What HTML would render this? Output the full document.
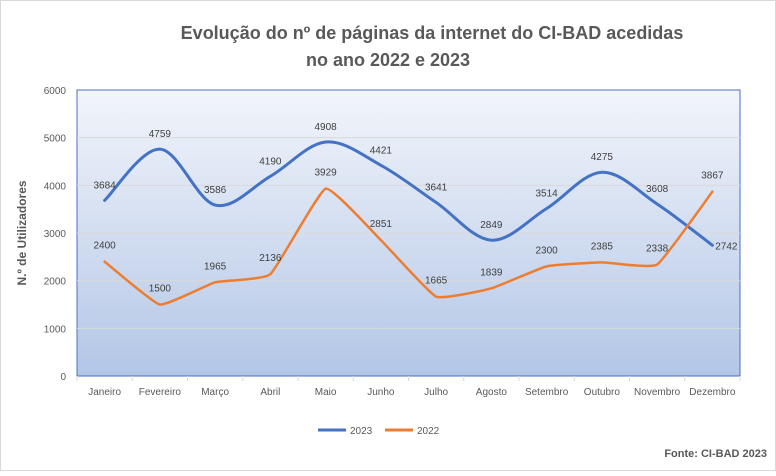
<!DOCTYPE html>
<html><head><meta charset="utf-8"><style>
body{margin:0;background:#fff;}
#c{position:relative;width:776px;height:471px;font-family:"Liberation Sans",sans-serif;}
</style></head><body><div id="c">
<svg id="s" width="776" height="471" xmlns="http://www.w3.org/2000/svg" font-family="Liberation Sans, sans-serif">
<defs><linearGradient id="g" x1="0" y1="0" x2="0" y2="1"><stop offset="0" stop-color="#f2f5fb"/><stop offset="1" stop-color="#b3c6e6"/></linearGradient></defs>
<rect x="0.5" y="0.5" width="775" height="470" fill="#fff" stroke="#d9d9d9"/>
<text x="432" y="39" text-anchor="middle" font-size="18" font-weight="bold" fill="#595959">Evolução do nº de páginas da internet do CI-BAD acedidas</text>
<text x="388" y="66" text-anchor="middle" font-size="18" font-weight="bold" fill="#595959">no ano 2022 e 2023</text>
<rect x="77" y="90" width="663" height="286" fill="url(#g)" stroke="#4472c4" stroke-width="1"/>
<text transform="translate(26,233) rotate(-90)" text-anchor="middle" font-size="12" font-weight="bold" fill="#595959">N.º de Utilizadores</text>
<line x1="318" y1="430" x2="346" y2="430" stroke="#4472c4" stroke-width="3"/>
<text x="350" y="434" font-size="10" fill="#595959">2023</text>
<line x1="385" y1="430" x2="413" y2="430" stroke="#ed7d31" stroke-width="3"/>
<text x="417" y="434" font-size="10" fill="#595959">2022</text>
<text x="767" y="457" text-anchor="end" font-size="11" font-weight="bold" fill="#595959">Fonte: CI-BAD  2023</text>
</svg>
<script>
var ns="http://www.w3.org/2000/svg",s=document.getElementById('s');
function el(t,a,txt){var e=document.createElementNS(ns,t);for(var k in a)e.setAttribute(k,a[k]);if(txt!==undefined)e.textContent=txt;s.appendChild(e);return e;}
function Y(v){return 376-v*286/6000;}
for(var v=0;v<=6000;v+=1000){var y=Y(v);if(v>0&&v<6000)el('line',{x1:77,x2:740,y1:y,y2:y,stroke:'#d9d9d9','stroke-width':1});
el('text',{x:66,y:y+4,'text-anchor':'end','font-size':10,fill:'#595959'},v);}
var m=["Janeiro","Fevereiro","Março","Abril","Maio","Junho","Julho","Agosto","Setembro","Outubro","Novembro","Dezembro"];
var w=663/12;function X(i){return 77+w/2+i*w;}
for(var i=0;i<12;i++){el('text',{x:X(i),y:395,'text-anchor':'middle','font-size':10,fill:'#595959'},m[i]);
el('line',{x1:77+i*w,x2:77+i*w,y1:376,y2:381,stroke:'#d9d9d9'});}
el('line',{x1:740,x2:740,y1:376,y2:381,stroke:'#d9d9d9'});
var a=[3684,4759,3586,4190,4908,4421,3641,2849,3514,4275,3608,2742];
var b=[2400,1500,1965,2136,3929,2851,1665,1839,2300,2385,2338,3867];
function path(d,k){var p=d.map(function(v,i){return [X(i),Y(v)];}),str="M"+p[0][0]+","+p[0][1];
for(var i=0;i<p.length-1;i++){var p0=p[i-1]||p[i],p1=p[i],p2=p[i+1],p3=p[i+2]||p2;
str+=" C"+(p1[0]+(p2[0]-p0[0])*k)+","+(p1[1]+(p2[1]-p0[1])*k)+" "+(p2[0]-(p3[0]-p1[0])*k)+","+(p2[1]-(p3[1]-p1[1])*k)+" "+p2[0]+","+p2[1];}
return str;}
el('path',{d:path(a,1/6),fill:'none',stroke:'#4472c4','stroke-width':3,'stroke-linecap':'round'});
el('path',{d:path(b,0.06),fill:'none',stroke:'#ed7d31','stroke-width':2.5,'stroke-linecap':'round'});
for(var i=0;i<12;i++){var dx=(i==11?14:0),dy=(i==11?4:-12);
el('text',{x:X(i)+dx,y:Y(a[i])+dy,'text-anchor':'middle','font-size':10,fill:'#404040'},a[i]);}
for(var i=0;i<12;i++){el('text',{x:X(i),y:Y(b[i])-13,'text-anchor':'middle','font-size':10,fill:'#404040'},b[i]);}
</script>
</div></body></html>
